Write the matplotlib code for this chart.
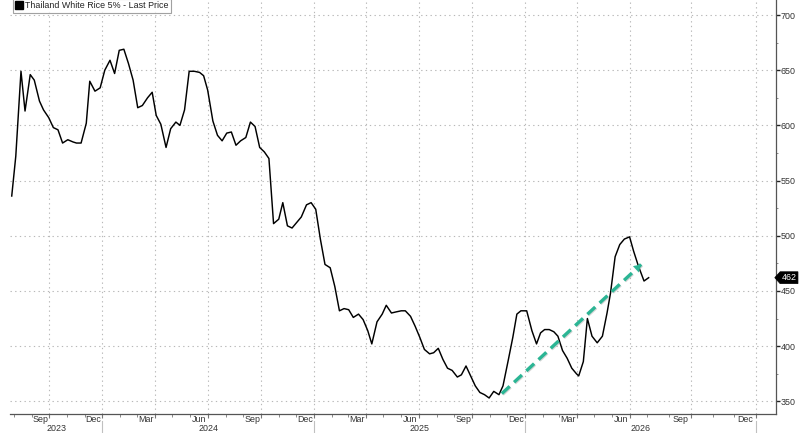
import datetime as dt
import numpy as np
import matplotlib
matplotlib.use("Agg")
import matplotlib.pyplot as plt
import matplotlib.dates as mdates
import matplotlib.patheffects as pe
from matplotlib import font_manager
from matplotlib.lines import Line2D
from matplotlib.path import Path
from matplotlib.ticker import MultipleLocator, NullFormatter

# ---------------- data ----------------
series_name = "Thailand White Rice 5% - Last Price"

dates = [
    "2023-07-28", "2023-08-04", "2023-08-13", "2023-08-20", "2023-08-29", "2023-09-05",
    "2023-09-14", "2023-09-21", "2023-09-30", "2023-10-08", "2023-10-16", "2023-10-24",
    "2023-11-02", "2023-11-11", "2023-11-17", "2023-11-25", "2023-12-04", "2023-12-10",
    "2023-12-19", "2023-12-28", "2024-01-05", "2024-01-14", "2024-01-22", "2024-01-30",
    "2024-02-07", "2024-02-15", "2024-02-23", "2024-03-02", "2024-03-10", "2024-03-19",
    "2024-03-27", "2024-04-03", "2024-04-11", "2024-04-20", "2024-04-28", "2024-05-07",
    "2024-05-14", "2024-05-22", "2024-05-30", "2024-06-08", "2024-06-17", "2024-06-24",
    "2024-07-01", "2024-07-10", "2024-07-18", "2024-07-26", "2024-08-03", "2024-08-11",
    "2024-08-19", "2024-08-27", "2024-09-05", "2024-09-13", "2024-09-21", "2024-09-29",
    "2024-10-07", "2024-10-15", "2024-10-23", "2024-11-01", "2024-11-08", "2024-11-16",
    "2024-11-24", "2024-12-02", "2024-12-10", "2024-12-19", "2024-12-27", "2025-01-04",
    "2025-01-12", "2025-01-20", "2025-01-29", "2025-02-06", "2025-02-14", "2025-02-22",
    "2025-03-02", "2025-03-10", "2025-03-19", "2025-03-27", "2025-04-04", "2025-04-11",
    "2025-04-20", "2025-04-29", "2025-05-06", "2025-05-15", "2025-05-23", "2025-06-01",
    "2025-06-08", "2025-06-17", "2025-06-25", "2025-07-03", "2025-07-11", "2025-07-20",
    "2025-07-27", "2025-08-04", "2025-08-12", "2025-08-20", "2025-08-28", "2025-09-06",
    "2025-09-13", "2025-09-21", "2025-09-29", "2025-10-07", "2025-10-15", "2025-10-23",
    "2025-10-31", "2025-11-08", "2025-11-17", "2025-11-24", "2025-12-03", "2025-12-11",
    "2025-12-18", "2025-12-25", "2026-01-04", "2026-01-13", "2026-01-21", "2026-01-28",
    "2026-02-04", "2026-02-12", "2026-02-20", "2026-02-27", "2026-03-07", "2026-03-15",
    "2026-03-23", "2026-03-31", "2026-04-04", "2026-04-12", "2026-04-19", "2026-04-27",
    "2026-05-06", "2026-05-15", "2026-05-23", "2026-05-29", "2026-06-06", "2026-06-14",
    "2026-06-22", "2026-07-01", "2026-07-08", "2026-07-16", "2026-07-26", "2026-08-03",
]

prices = [
    536, 572, 649, 613, 646, 641,
    622, 614, 607, 598, 596, 584,
    587, 585, 584, 584, 602, 640,
    631, 634, 650, 659, 647, 668,
    669, 656, 641, 616, 618, 625,
    630, 609, 601, 580, 597, 603,
    600, 614, 649, 649, 648, 645,
    632, 604, 591, 586, 593, 594,
    582, 586, 589, 603, 599, 580,
    576, 570, 511, 515, 530, 509,
    507, 512, 517, 528, 530, 524,
    497, 474, 471, 454, 432, 434,
    433, 426, 429, 424, 414, 402,
    422, 429, 437, 430, 431, 432,
    432, 427, 418, 408, 397, 393,
    394, 398, 388, 380, 378, 372,
    374, 382, 373, 364, 358, 356,
    353, 359, 356, 364, 387, 408,
    429, 432, 432, 414, 402, 412,
    415, 415, 413, 409, 396, 389,
    380, 375, 373, 386, 425, 409,
    403, 409, 430, 448, 481, 492,
    497, 499, 486, 473, 459, 462,
]

trend_dates = ["2025-11-22", "2026-07-21"]
trend_values = [357, 474]

last_price_label = "462"
y_ticks = [350, 400, 450, 500, 550, 600, 650, 700]
quarter_month_names = {3: "Mar", 6: "Jun", 9: "Sep", 12: "Dec"}
years = [2023, 2024, 2025, 2026]

# ---------------- style ----------------
available = {f.name for f in font_manager.fontManager.ttflist}
if "Liberation Sans Narrow" in available:
    plt.rcParams["font.family"] = ["Liberation Sans Narrow", "DejaVu Sans"]
    FS = 7.6
elif "DejaVu Sans Condensed" in available:
    plt.rcParams["font.family"] = ["DejaVu Sans Condensed", "DejaVu Sans"]
    FS = 6.6
else:
    plt.rcParams["font.family"] = ["Liberation Sans", "DejaVu Sans"]
    FS = 6.4
TEXT = "#333333"
GRID = "#b8b8b8"
TEAL = "#2bb594"

x = [dt.datetime.strptime(d, "%Y-%m-%d") for d in dates]
tx = [dt.datetime.strptime(d, "%Y-%m-%d") for d in trend_dates]

fig = plt.figure(figsize=(8.0, 4.33), dpi=100)
ax = fig.add_axes([10 / 800, 1 - 414 / 433, 765.7 / 800, 414 / 433])

ax.plot(x, prices, color="black", lw=1.05, solid_joinstyle="round", zorder=3)

# Bloomberg-style time axis: the empty future part is drawn slightly wider
brk = mdates.date2num(x[-1])
K = 1.235


def fwd(v):
    v = np.asarray(v, dtype=float)
    return np.where(v <= brk, v, brk + (v - brk) * K)


def inv(v):
    v = np.asarray(v, dtype=float)
    return np.where(v <= brk, v, brk + (v - brk) / K)


ax.set_xscale("function", functions=(fwd, inv))
xmin = dt.datetime(2023, 7, 25)
xmax = dt.datetime(2027, 1, 28)
ax.set_xlim(xmin, xmax)
ax.set_ylim(338.5, 713.6)

ax.xaxis.set_major_locator(mdates.MonthLocator(bymonth=[1, 4, 7, 10]))
ax.xaxis.set_minor_locator(mdates.MonthLocator())
ax.xaxis.set_major_formatter(NullFormatter())
ax.xaxis.set_minor_formatter(NullFormatter())

ax.yaxis.tick_right()
ax.yaxis.set_label_position("right")
ax.set_yticks(y_ticks)
ax.yaxis.set_minor_locator(MultipleLocator(25))

for s in ["left", "top"]:
    ax.spines[s].set_visible(False)
for s in ["right", "bottom"]:
    ax.spines[s].set_color("#555555")
    ax.spines[s].set_linewidth(0.9)

ax.tick_params(axis="y", which="major", direction="out", length=2.6, width=1.0,
               color="#222222", labelsize=FS, labelcolor=TEXT, pad=0.8)
ax.tick_params(axis="y", which="minor", direction="out", length=1.6, width=0.6, color="#777777")
ax.tick_params(axis="x", which="major", direction="out", length=3, width=0.8, color="#777777")
ax.tick_params(axis="x", which="minor", direction="out", length=2, width=0.6, color="#777777")

ax.grid(True, which="major", axis="both", color=GRID, lw=0.8, linestyle=(0, (1.2, 3.0)))
ax.set_axisbelow(True)

# month labels centred in their month, year labels centred in their span
xt = ax.get_xaxis_transform()
xmin_n, xmax_n = mdates.date2num(xmin), mdates.date2num(xmax)
for yr in range(xmin.year, xmax.year + 1):
    for m, name in quarter_month_names.items():
        start = mdates.date2num(dt.datetime(yr, m, 1))
        end = mdates.date2num(dt.datetime(yr + (m == 12), m % 12 + 1, 1))
        mid = float(inv((fwd(start) + fwd(end)) / 2))
        if xmin_n < mid < xmax_n:
            ax.text(mid, -0.014, name, transform=xt, ha="center", va="center",
                    fontsize=FS, color=TEXT, clip_on=False)

for yr in years:
    a = max(mdates.date2num(dt.datetime(yr, 1, 1)), xmin_n)
    b = min(mdates.date2num(dt.datetime(yr + 1, 1, 1)), xmax_n)
    mid = float(inv((fwd(a) + fwd(b)) / 2))
    ax.text(mid, -0.036, str(yr), transform=xt, ha="center", va="center",
            fontsize=FS, color=TEXT, clip_on=False)
    sep = mdates.date2num(dt.datetime(yr + 1, 1, 1))
    if sep < xmax_n:
        ax.plot([sep, sep], [-0.016, -0.08], transform=xt, color="#c0c0c0",
                lw=0.8, clip_on=False)

# dashed teal trend arrow
ax.plot(tx, trend_values, color=TEAL, lw=2.4, linestyle=(0, (3.2, 1.8)),
        dash_capstyle="butt", zorder=4,
        path_effects=[pe.SimpleLineShadow(offset=(0.6, -0.6), shadow_color="#888888", alpha=0.35),
                      pe.Normal()])
fig.canvas.draw()
p0 = ax.transData.transform((mdates.date2num(tx[0]), trend_values[0]))
p1 = ax.transData.transform((mdates.date2num(tx[1]), trend_values[1]))
d = (p1 - p0) / np.hypot(*(p1 - p0))
ax.annotate("", xy=(mdates.date2num(tx[1]), trend_values[1]),
            xytext=(-d[0] * 5, -d[1] * 5), textcoords="offset points",
            arrowprops=dict(arrowstyle="-|>,head_length=0.5,head_width=0.3",
                            color=TEAL, lw=0.1, mutation_scale=10, shrinkA=0, shrinkB=0),
            zorder=5)


# last price tag on the right axis
def tag_style(x0, y0, width, height, mutation_size):
    pad = mutation_size * 0.16
    x0, y0 = x0 - pad, y0 - pad
    x1, y1 = x0 + width + 2 * pad, y0 + height + 2 * pad
    tip = (y1 - y0) * 0.45
    return Path([(x0, y0), (x1, y0), (x1, y1), (x0, y1), (x0 - tip, (y0 + y1) / 2), (x0, y0)],
                closed=True)


ax.annotate(last_price_label, xy=(1.0, prices[-1]), xycoords=ax.get_yaxis_transform(),
            xytext=(4.2, 0), textcoords="offset points", ha="left", va="center",
            fontsize=FS, color="white", annotation_clip=False,
            bbox=dict(boxstyle=tag_style, fc="black", ec="black", lw=0.5), zorder=6)

# legend
handle = Line2D([], [], marker="s", color="black", linestyle="none", markersize=6)
leg = ax.legend([handle], [series_name], loc="upper left", bbox_to_anchor=(0.004, 1.003),
                borderaxespad=0, fontsize=FS, frameon=True, fancybox=False,
                handlelength=0.7, handletextpad=0.3, borderpad=0.3)
leg.get_frame().set_edgecolor("#8a8a8a")
leg.get_frame().set_linewidth(0.8)
for t in leg.get_texts():
    t.set_color("#222222")

fig.savefig("out.png", dpi=100)
